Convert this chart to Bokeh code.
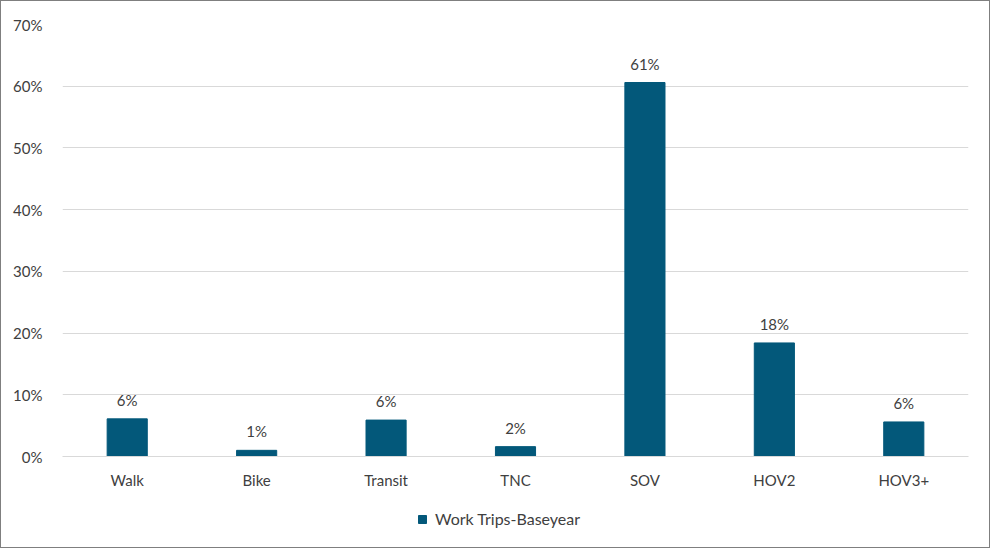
from bokeh.plotting import figure
from bokeh.layouts import column
from bokeh.models import (ColumnDataSource, NumeralTickFormatter, FixedTicker,
                          Legend, LegendItem, Range1d)
from bokeh.core.properties import value
from bokeh.embed import file_html
from bokeh.resources import INLINE

# Mode share of work trips, base year
modes = ["Walk", "Bike", "Transit", "TNC", "SOV", "HOV2", "HOV3+"]
shares = [0.061, 0.010, 0.059, 0.016, 0.606, 0.184, 0.056]
series_name = "Work Trips-Baseyear"

BAR = "#03587A"
TXT = "#404040"
GRID = "#D9D9D9"
FONT = "Lato"
FS = "15px"

labels = [f"{round(s * 100):.0f}%" for s in shares]
src = ColumnDataSource(dict(mode=modes, share=shares, label=labels))

# --- main chart -------------------------------------------------------------
p = figure(
    x_range=modes, y_range=(0, 0.7),
    width=988, height=490,
    output_backend="svg", toolbar_location=None,
    min_border_left=61, min_border_right=21,
    min_border_top=23, min_border_bottom=34,
)
p.outline_line_color = None
p.background_fill_color = "white"
p.border_fill_color = "white"

bars = p.vbar(x="mode", top="share", width=0.31, source=src,
              fill_color=BAR, line_color=BAR)

p.text(x="mode", y="share", text="label", source=src,
       text_align="center", text_baseline="bottom", y_offset=-10,
       text_font=value(FONT), text_font_size=FS, text_color=TXT)

p.yaxis.ticker = FixedTicker(ticks=[i / 10 for i in range(8)])
p.yaxis.formatter = NumeralTickFormatter(format="0%")
p.yaxis.axis_line_color = None
p.yaxis.major_tick_line_color = None
p.yaxis.minor_tick_line_color = None
p.yaxis.major_label_text_font = FONT
p.yaxis.major_label_text_font_size = FS
p.yaxis.major_label_text_color = TXT
p.yaxis.major_label_standoff = 14

p.xaxis.axis_line_color = GRID
p.xaxis.major_tick_line_color = None
p.xaxis.minor_tick_line_color = None
p.xaxis.major_label_text_font = FONT
p.xaxis.major_label_text_font_size = FS
p.xaxis.major_label_text_color = TXT
p.xaxis.major_label_standoff = 8

p.xgrid.grid_line_color = None
p.ygrid.grid_line_color = GRID
p.ygrid.grid_line_width = 1

# --- legend strip -------------------------------------------------------------
# The strip carries its own copy of the series (scrolled out of view) so the
# legend swatch is drawn from the same glyph styling as the bars above.
leg = figure(
    x_range=modes, y_range=Range1d(10, 11),
    width=988, height=56,
    output_backend="svg", toolbar_location=None,
    x_axis_location=None, y_axis_location=None,
    min_border=0,
)
leg.outline_line_color = None
leg.grid.visible = False
leg.background_fill_color = "white"
leg.border_fill_color = "white"
swatch = leg.vbar(x="mode", top="share", width=0.31, source=src,
                  fill_color=BAR, line_color=BAR)

legend = Legend(
    items=[LegendItem(label=series_name, renderers=[swatch])],
    location=(355, 19),
    border_line_color=None, background_fill_alpha=0,
    glyph_width=10, glyph_height=10, label_standoff=8,
    padding=0, margin=0, spacing=0,
    label_text_font=FONT, label_text_font_size="16px", label_text_color=TXT,
)
leg.add_layout(legend, "center")

page = column(p, leg, spacing=0,
              styles={"border": "1px solid #7F7F7F", "background": "white"})

open("out.html", "w").write(file_html(page, INLINE))
